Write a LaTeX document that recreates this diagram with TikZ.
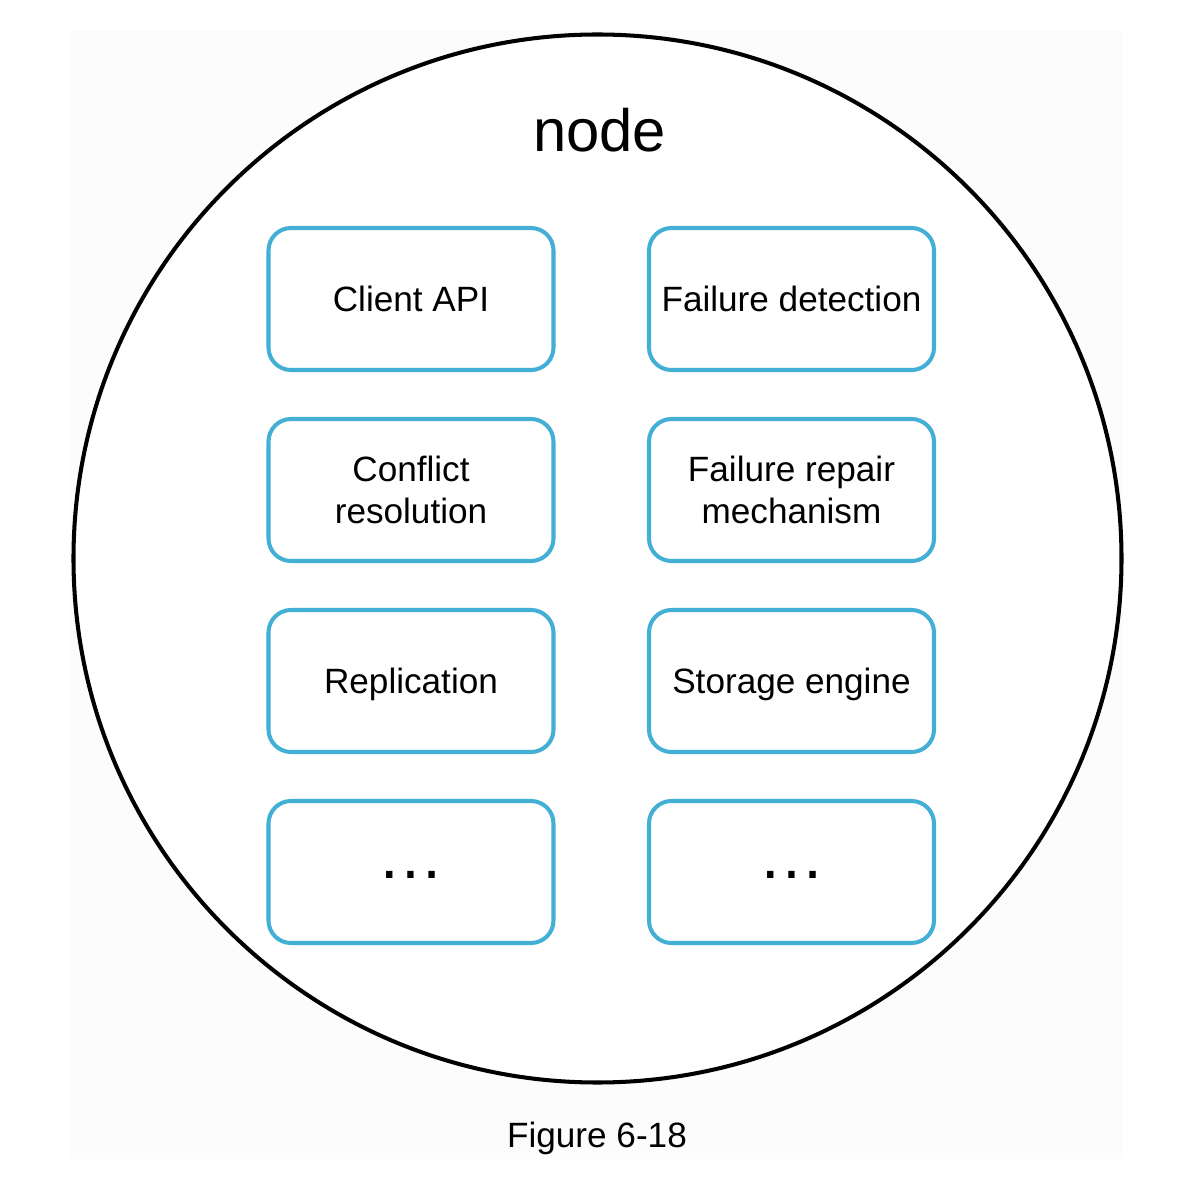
\documentclass[tikz,border=0pt]{standalone}
\usepackage{fontspec}
\setmainfont{Liberation Sans}
\usepackage{tikz}
\definecolor{boxblue}{RGB}{68,175,213}
\tikzstyle{every node}=[inner sep=2pt]
\tikzstyle{part}=[draw=boxblue,line width=2.3pt,rounded corners=0.45cm,fill=white,minimum width=5.7cm,minimum height=2.84cm,align=center,text depth=0pt,font=\fontsize{20}{24}\selectfont]
\tikzstyle{more}=[text height=0.24cm,font=\fontsize{38}{40}\selectfont]

\begin{document}
\begin{tikzpicture}
\useasboundingbox (0,0) rectangle (23.92,-23.68);
\fill[black!1] (1.40,-0.60) rectangle (22.46,-23.18);
\draw[line width=2.3pt,fill=white] (11.95,-11.17) circle (10.48);
\draw (11.99,-3.04)node[anchor=base,font=\fontsize{34}{40}\selectfont](title){node};
\draw (8.22,-5.98)node[part](api){Client API};
\draw (15.83,-5.98)node[part](detect){Failure detection};
\draw (8.22,-9.80)node[part](conflict){Conflict\\resolution};
\draw (15.83,-9.80)node[part](repair){Failure repair\\mechanism};
\draw (8.22,-13.62)node[part](repl){Replication};
\draw (15.83,-13.62)node[part](storage){Storage engine};
\draw (8.22,-17.44)node[part,more](moreL){…};
\draw (15.83,-17.44)node[part,more](moreR){…};
\draw (11.94,-22.94)node[anchor=base,font=\fontsize{20}{24}\selectfont](caption){Figure 6-18};
\end{tikzpicture}
\end{document}
